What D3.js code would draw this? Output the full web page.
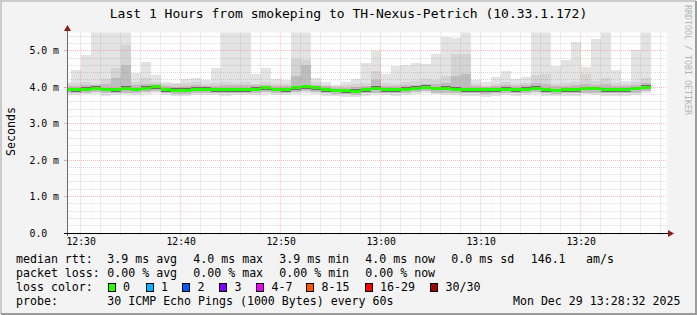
<!DOCTYPE html>
<html>
<head>
<meta charset="utf-8">
<script src="https://cdn.jsdelivr.net/npm/d3@7/dist/d3.min.js"></script>
<style>
body { margin: 0; background: #f3f3f3; }
svg { display: block; font-family: "DejaVu Sans Mono", monospace; }
text { white-space: pre; }
</style>
</head>
<body>
<svg id="graph" width="697" height="315"></svg>
<script>
// one bin per minute, start time of each bin
var binStarts = ["12:28","12:29","12:30","12:31","12:32","12:33","12:34","12:35","12:36","12:37",
  "12:38","12:39","12:40","12:41","12:42","12:43","12:44","12:45","12:46","12:47",
  "12:48","12:49","12:50","12:51","12:52","12:53","12:54","12:55","12:56","12:57",
  "12:58","12:59","13:00","13:01","13:02","13:03","13:04","13:05","13:06","13:07",
  "13:08","13:09","13:10","13:11","13:12","13:13","13:14","13:15","13:16","13:17",
  "13:18","13:19","13:20","13:21","13:22","13:23","13:24","13:25","13:26"];

// round trip times in ms
var rttMax = [4.14,4.46,4.87,5.60,5.60,5.60,5.60,4.38,4.68,4.33,4.15,4.12,4.23,4.24,4.20,4.52,5.60,5.60,5.60,4.35,
  4.52,4.22,4.20,5.60,5.60,4.24,4.13,4.06,4.14,4.22,4.65,4.99,4.35,4.57,4.60,4.65,4.63,4.90,5.39,5.36,
  5.60,4.20,4.13,4.29,4.44,4.22,4.29,5.60,5.60,4.57,4.74,5.24,4.54,5.31,5.60,4.48,4.18,5.03,5.60];
var rttHi2 = [4.08,4.12,4.14,4.10,4.22,4.52,5.15,4.15,4.26,4.14,4.08,4.08,4.12,4.14,4.10,4.12,4.15,4.12,4.15,4.10,
  4.14,4.08,4.10,4.78,4.75,4.14,4.06,4.02,4.05,4.08,4.12,4.45,4.12,4.10,4.14,4.16,4.22,4.20,4.30,4.90,
  4.92,4.08,4.04,4.08,4.14,4.10,4.12,4.33,4.35,4.10,4.12,4.15,4.35,4.18,4.26,4.12,4.08,4.15,4.26];
var rttHi3 = [4.03,4.04,4.05,4.06,4.08,4.26,4.60,4.05,4.10,4.08,4.02,4.01,4.03,4.05,4.04,4.04,4.06,4.05,4.06,4.05,
  4.07,4.03,4.03,4.30,4.60,4.07,4.02,3.99,3.99,4.00,4.04,4.20,4.03,4.03,4.06,4.07,4.10,4.08,4.12,4.30,
  4.35,4.03,4.01,4.02,4.06,4.03,4.05,4.12,4.10,4.02,4.04,4.06,4.10,4.07,4.08,4.04,4.03,4.07,4.12];
var rttQ3 = [3.99,3.98,4.00,4.02,3.99,3.99,4.03,3.99,4.02,4.05,3.98,3.97,3.97,4.00,4.00,3.98,3.98,3.99,3.98,4.00,
  4.03,3.99,3.98,4.04,4.07,4.03,3.98,3.96,3.95,3.94,3.98,4.02,3.98,3.98,4.00,4.02,4.05,4.01,4.02,4.01,
  3.99,3.98,3.97,3.98,4.00,3.98,4.00,4.03,3.98,3.96,3.98,3.99,4.01,4.01,3.99,3.98,3.98,4.01,4.05];
var rttMedian = [3.94,3.93,3.95,3.97,3.94,3.93,3.97,3.94,3.97,4.01,3.93,3.92,3.92,3.95,3.95,3.93,3.93,3.93,3.93,3.95,
  3.98,3.94,3.93,3.98,4.01,3.98,3.93,3.91,3.90,3.89,3.93,3.96,3.93,3.93,3.95,3.97,4.00,3.96,3.96,3.95,
  3.93,3.93,3.93,3.93,3.95,3.93,3.95,3.97,3.93,3.91,3.93,3.93,3.96,3.96,3.93,3.93,3.93,3.96,4.00];
var rttQ1 = [3.89,3.88,3.90,3.92,3.89,3.88,3.91,3.89,3.92,3.96,3.88,3.87,3.87,3.90,3.90,3.88,3.88,3.88,3.88,3.90,
  3.93,3.89,3.88,3.93,3.95,3.93,3.88,3.86,3.85,3.84,3.88,3.91,3.88,3.88,3.90,3.92,3.95,3.91,3.91,3.90,
  3.88,3.88,3.88,3.88,3.90,3.88,3.90,3.92,3.88,3.86,3.88,3.88,3.91,3.91,3.88,3.88,3.88,3.91,3.95];
var rttLo = [3.84,3.83,3.85,3.86,3.84,3.83,3.85,3.84,3.86,3.90,3.83,3.82,3.82,3.85,3.85,3.83,3.83,3.83,3.83,3.85,
  3.87,3.84,3.83,3.87,3.89,3.87,3.83,3.81,3.80,3.79,3.83,3.85,3.83,3.83,3.85,3.86,3.89,3.85,3.85,3.85,
  3.83,3.83,3.82,3.83,3.85,3.83,3.85,3.86,3.83,3.81,3.83,3.83,3.85,3.85,3.83,3.83,3.83,3.85,3.89];
var rttMin = [3.79,3.78,3.80,3.80,3.77,3.78,3.80,3.79,3.80,3.84,3.78,3.76,3.77,3.79,3.78,3.78,3.77,3.78,3.78,3.79,
  3.82,3.78,3.78,3.81,3.83,3.81,3.77,3.75,3.74,3.74,3.77,3.80,3.78,3.77,3.79,3.80,3.83,3.80,3.79,3.79,
  3.77,3.77,3.73,3.77,3.79,3.77,3.79,3.80,3.77,3.75,3.77,3.77,3.80,3.79,3.77,3.77,3.77,3.79,3.83];

var yTicks = [0, 1, 2, 3, 4, 5];
var yTickLabels = ["0.0", "1.0 m", "2.0 m", "3.0 m", "4.0 m", "5.0 m"];
var xTickLabels = ["12:30", "12:40", "12:50", "13:00", "13:10", "13:20"];

var titleText = "Last 1 Hours from smokeping to TH-Nexus-Petrich (10.33.1.172)";
var rttStats = ["3.9 ms avg", "4.0 ms max", "3.9 ms min", "4.0 ms now", "0.0 ms sd", "146.1", "am/s"];
var lossStats = ["0.00 % avg", "0.00 % max", "0.00 % min", "0.00 % now"];
var lossLabels = ["0", "1", "2", "3", "4-7", "8-15", "16-29", "30/30"];
var lossColors = ["#26ff00", "#00b8ff", "#0059ff", "#7e00ff", "#ee00ff", "#ff5500", "#ff0000", "#a10000"];
var probeText = "30 ICMP Echo Pings (1000 Bytes) every 60s";
var stampText = "Mon Dec 29 13:28:32 2025";

var parseT = d3.timeParse("%Y-%m-%d %H:%M:%S");
var day = "2025-12-29 ";

var svg = d3.select("#graph"),
    WIDTH = 697,
    HEIGHT = 315,
    PLOT = { left: 67, right: 667, top: 32.5, bottom: 233 };

var xRange = d3.scaleTime()
    .domain([parseT(day + "12:28:38"), parseT(day + "13:28:38")])
    .range([PLOT.left, PLOT.right]);
var yRange = d3.scaleLinear().domain([0, 5.5]).range([PLOT.bottom, PLOT.top]);

function crisp(v) { return Math.floor(v) + 0.5; }

// background + shading frame
svg.append("rect").attr("width", WIDTH).attr("height", HEIGHT).attr("fill", "#f3f3f3");
svg.append("path").attr("d", "M1,314V1H696").attr("stroke", "#cbcbcb").attr("stroke-width", 2).attr("fill", "none");
svg.append("path").attr("d", "M1,314H696V1").attr("stroke", "#9b9b9b").attr("stroke-width", 2).attr("fill", "none");

// canvas
svg.append("rect")
  .attr("x", PLOT.left).attr("y", PLOT.top)
  .attr("width", PLOT.right - PLOT.left).attr("height", PLOT.bottom - PLOT.top)
  .attr("fill", "#ffffff");

svg.append("clipPath").attr("id", "plotclip")
  .append("rect")
  .attr("x", PLOT.left).attr("y", PLOT.top)
  .attr("width", PLOT.right - PLOT.left).attr("height", PLOT.bottom - PLOT.top);

var bins = binStarts.map(function(s, i) {
  var start = parseT(day + s + ":00");
  return {
    start: start,
    end: d3.timeMinute.offset(start, 1),
    min: rttMin[i], lo: rttLo[i], q1: rttQ1[i], med: rttMedian[i],
    q3: rttQ3[i], hi3: rttHi3[i], hi2: rttHi2[i], max: rttMax[i]
  };
});

// smoke layers, outer to inner
var layers = [
  { lo: "min", hi: "max", color: "#e3e3e3" },
  { lo: "lo", hi: "hi2", color: "#d4d4d4" },
  { lo: "lo", hi: "hi3", color: "#bdbdbd" },
  { lo: "q1", hi: "q3", color: "#6a6a6a" }
];

var smoke = svg.append("g").attr("clip-path", "url(#plotclip)").attr("shape-rendering", "crispEdges");
layers.forEach(function(l) {
  smoke.append("g").selectAll("rect")
    .data(bins)
    .enter().append("rect")
    .attr("x", function(d) { return xRange(d.start); })
    .attr("width", function(d) { return xRange(d.end) - xRange(d.start); })
    .attr("y", function(d) { return yRange(d[l.hi]); })
    .attr("height", function(d) { return yRange(d[l.lo]) - yRange(d[l.hi]); })
    .attr("fill", l.color);
});

// median, coloured by loss (all 0 here)
smoke.append("g").selectAll("rect")
  .data(bins)
  .enter().append("rect")
  .attr("x", function(d) { return xRange(d.start); })
  .attr("width", function(d) { return xRange(d.end) - xRange(d.start); })
  .attr("y", function(d) { return yRange(d.med) - 1.5; })
  .attr("height", 3)
  .attr("fill", lossColors[0]);

// grid
var grid = svg.append("g").attr("fill", "none").attr("stroke-dasharray", "1,1");
var minorY = d3.range(0, 56, 2).map(function(v) { return v / 10; })
  .filter(function(v) { return Math.abs(v - Math.round(v)) > 1e-6; });
var majorX = d3.timeMinute.every(10).range(xRange.domain()[0], xRange.domain()[1]);
var minorX = d3.timeMinute.every(2).range(xRange.domain()[0], xRange.domain()[1])
  .filter(function(d) { return d.getMinutes() % 10 !== 0; });

grid.selectAll(".hmin").data(minorY).enter().append("line")
  .attr("x1", PLOT.left).attr("x2", PLOT.right)
  .attr("y1", function(d) { return crisp(yRange(d)); })
  .attr("y2", function(d) { return crisp(yRange(d)); })
  .attr("stroke", "#a0a0a0").attr("stroke-opacity", 0.4);
grid.selectAll(".vmin").data(minorX).enter().append("line")
  .attr("y1", PLOT.top).attr("y2", PLOT.bottom)
  .attr("x1", function(d) { return crisp(xRange(d)); })
  .attr("x2", function(d) { return crisp(xRange(d)); })
  .attr("stroke", "#a0a0a0").attr("stroke-opacity", 0.4);
grid.selectAll(".hmaj").data(yTicks.slice(1)).enter().append("line")
  .attr("x1", PLOT.left).attr("x2", PLOT.right)
  .attr("y1", function(d) { return crisp(yRange(d)); })
  .attr("y2", function(d) { return crisp(yRange(d)); })
  .attr("stroke", "#ff4040").attr("stroke-opacity", 0.35);
grid.selectAll(".vmaj").data(majorX).enter().append("line")
  .attr("y1", PLOT.top).attr("y2", PLOT.bottom + 4)
  .attr("x1", function(d) { return crisp(xRange(d)); })
  .attr("x2", function(d) { return crisp(xRange(d)); })
  .attr("stroke", "#ff4040").attr("stroke-opacity", 0.35);

// minor ticks outside canvas
var ticks = svg.append("g").attr("stroke", "#c4c4c4");
minorX.forEach(function(d) {
  ticks.append("line").attr("x1", crisp(xRange(d))).attr("x2", crisp(xRange(d)))
    .attr("y1", PLOT.bottom).attr("y2", PLOT.bottom + 2);
});
yTicks.forEach(function(d) {
  ticks.append("line").attr("y1", crisp(yRange(d))).attr("y2", crisp(yRange(d)))
    .attr("x1", PLOT.left - 3).attr("x2", PLOT.left).attr("stroke", "#f0a8a8");
});

// axis lines and arrows
svg.append("line").attr("x1", 67.5).attr("x2", 67.5).attr("y1", PLOT.bottom + 3).attr("y2", 29)
  .attr("stroke", "#6a6a6a");
svg.append("line").attr("x1", 64).attr("x2", 670).attr("y1", 233.5).attr("y2", 233.5)
  .attr("stroke", "#000");
svg.append("path").attr("d", "M64,31L71,31L67.5,25Z").attr("fill", "#8b1a1a");
svg.append("path").attr("d", "M668,230L668,237L674,233.5Z").attr("fill", "#8b1a1a");

// axis labels
var xAxis = d3.axisBottom(xRange)
  .tickValues(xTickLabels.map(function(s) { return parseT(day + s + ":00"); }))
  .tickFormat(d3.timeFormat("%H:%M"))
  .tickSize(0).tickPadding(0);
var gx = svg.append("g").attr("transform", "translate(0,236)").call(xAxis);
gx.select(".domain").remove();
gx.selectAll("text").attr("font-family", "DejaVu Sans Mono").attr("font-size", "9.8px")
  .attr("fill", "#000").attr("y", 9).attr("dy", 0);

svg.append("g").selectAll("text")
  .data(yTicks)
  .enter().append("text")
  .attr("x", 29.5)
  .attr("y", function(d) { return yRange(d) + 3.5; })
  .attr("font-size", "9.8px")
  .text(function(d, i) { return yTickLabels[i]; });

svg.append("text")
  .attr("transform", "translate(14.5,131.5) rotate(-90)")
  .attr("text-anchor", "middle").attr("font-size", "11.6px")
  .text("Seconds");

svg.append("text")
  .attr("x", 348.5).attr("y", 18)
  .attr("text-anchor", "middle").attr("font-size", "13px")
  .text(titleText);

svg.append("text")
  .attr("transform", "translate(685,5) rotate(90)")
  .attr("font-size", "8.3px").attr("fill", "#b4b4b4")
  .text("RRDTOOL / TOBI OETIKER");

// legend
var legend = svg.append("g").attr("font-size", "11.6px").attr("fill", "#000");
var statX = [107.3, 193.3, 279.3, 365.3, 451.3, 530.7, 586];
legend.append("text").attr("x", 16).attr("y", 262.5).text("median rtt:");
rttStats.forEach(function(s, i) {
  legend.append("text").attr("x", statX[i]).attr("y", 262.5).text(s);
});
legend.append("text").attr("x", 16).attr("y", 276.5).text("packet loss:");
lossStats.forEach(function(s, i) {
  legend.append("text").attr("x", statX[i]).attr("y", 276.5).text(s);
});
legend.append("text").attr("x", 16).attr("y", 290.5).text("loss color:");
var boxX = [108, 146, 182.5, 219.5, 256.5, 306.5, 365, 430.5];
lossLabels.forEach(function(s, i) {
  legend.append("rect").attr("x", Math.floor(boxX[i]) + 0.5).attr("y", 283.5)
    .attr("width", 7).attr("height", 8)
    .attr("fill", lossColors[i]).attr("stroke", "#000");
  legend.append("text").attr("x", boxX[i] + 15).attr("y", 290.5).text(s);
});
legend.append("text").attr("x", 16).attr("y", 304.5).text("probe:");
legend.append("text").attr("x", 107.3).attr("y", 304.5).text(probeText);
legend.append("text").attr("x", 680.5).attr("y", 304.5).attr("text-anchor", "end").text(stampText);
</script>
</body>
</html>
